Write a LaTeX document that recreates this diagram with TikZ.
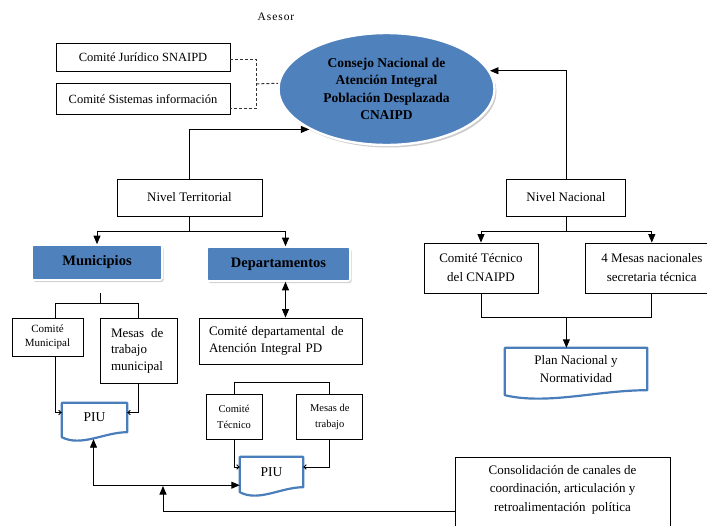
\documentclass[tikz,border=0pt]{standalone}
\usepackage{fontspec}
\setmainfont{Liberation Serif}
\usetikzlibrary{arrows.meta}
\usetikzlibrary{shapes.geometric}
\usetikzlibrary{shadows}
\usetikzlibrary{calc}
\usetikzlibrary{positioning}
\definecolor{officeblue}{RGB}{79,129,189}
\definecolor{docblue}{RGB}{74,126,187}
\newcommand{\docshape}[1]{%
  \draw[docborder] (#1.south east) -- (#1.north east) -- (#1.north west) -- ($(#1.south west)+(0,5)$)
    .. controls ($(#1.south east)!0.7!(#1.south west)+(0,15)$) and ($(#1.south east)!0.35!(#1.south west)$) .. (#1.south east) -- cycle;}

\begin{document}
\begin{tikzpicture}[x=1pt, y=-1pt,
mybox/.style={
draw=black,
line width=0.8pt,
fill=white,
inner sep=0pt,
align=center,
font=\fontsize{13}{19}\selectfont},
mysmall/.style={mybox, font=\fontsize{10.5}{16}\selectfont},
myblue/.style={
rounded corners=2pt,
fill=officeblue,
draw=white,
line width=1.6pt,
inner sep=0pt,
drop shadow={shadow xshift=1.5pt, shadow yshift=-2pt, opacity=0.35},
font=\bfseries\fontsize{14.5}{17}\selectfont},
myellipse/.style={
ellipse,
fill=officeblue,
draw=white,
line width=2.4pt,
inner sep=0pt,
drop shadow={shadow xshift=2pt, shadow yshift=-2.5pt, opacity=0.4},
align=center,
font=\bfseries\fontsize{13.5}{17.3}\selectfont},
mydoc/.style={inner sep=0pt, align=center, font=\fontsize{13}{18}\selectfont},
docborder/.style={draw=docblue, line width=2.2pt, line join=round},
myline/.style={line width=0.9pt},
myarrow/.style={line width=0.9pt, -{Triangle[length=8.5pt,width=7pt]}},
mydblarrow/.style={line width=0.9pt, {Triangle[length=8.5pt,width=7pt]}-{Triangle[length=8.5pt,width=7pt]}},
mysmallarrow/.style={line width=0.9pt, -{Straight Barb[length=2.5pt,width=4.5pt]}},
mydashed/.style={line width=1pt, draw=black!80, dash pattern=on 3pt off 2pt}
]
\useasboundingbox (0,0) rectangle (707,525);
% council and advisers
\node[font=\fontsize{11.5}{14}\selectfont\addfontfeatures{LetterSpace=8}] (asesor) at (276,17) {Asesor};
\node[mybox, minimum width=174, minimum height=28, font=\fontsize{12.5}{15}\selectfont] (cjur) at (143,57) {Comité Jurídico SNAIPD};
\node[mybox, minimum width=174, minimum height=31, font=\fontsize{12.5}{15}\selectfont, below=12pt of cjur] (csis) {Comité Sistemas información};
\node[myellipse, minimum width=216, minimum height=112] (cnaipd) at (386.5,89) {Consejo Nacional de\\Atención Integral\\Población Desplazada\\CNAIPD};
% territorial level
\node[mybox, minimum width=145, minimum height=37] (terr) at (189.5,197.5) {Nivel Territorial};
\node[myblue, minimum width=130, minimum height=35] (mun) at (97,262.5) {Municipios};
\node[myblue, minimum width=143, minimum height=34] (dep) at (278.5,264) {Departamentos};
\node[mybox, minimum width=71, minimum height=38, font=\fontsize{11}{14}\selectfont] (cmun) at (47.5,337) {Comité\\Municipal};
\node[mybox, minimum width=77, minimum height=65, align=left, text width=55, font=\fontsize{13}{16.5}\selectfont] (mmun) at (138.5,350.5) {Mesas\hspace{7pt}de\\trabajo\\municipal};
\node[mybox, minimum width=163, minimum height=46, align=left, text width=143, font=\fontsize{13}{17}\selectfont] (cdep) at (280.5,341) {Comité departamental\hspace{6pt}de\\Atención Integral PD};
\node[mysmall, minimum width=56, minimum height=45] (ctec2) at (234,416.5) {Comité\\Técnico};
\node[mysmall, minimum width=66, minimum height=45, right=34pt of ctec2] (mtrab) {Mesas de\\trabajo};
\node[mydoc, minimum width=65, minimum height=29, font=\fontsize{13.5}{16}\selectfont] (piu1) at (94.5,417.5) {PIU};
\node[mydoc, minimum width=63, minimum height=30, font=\fontsize{13.5}{16}\selectfont] (piu2) at (271.5,472) {PIU};
\node[mybox, anchor=north, minimum width=215, inner ysep=8pt, text depth=50pt, font=\fontsize{13}{18.5}\selectfont] (cons) at (562.5,457) {Consolidación de canales de\\coordinación, articulación y\\retroalimentación\hspace{3pt} política};
% national level
\node[mybox, minimum width=119, minimum height=37] (nac) at (566,197.5) {Nivel Nacional};
\node[mybox, minimum width=114, minimum height=50] (ctn) at (481,268) {Comité Técnico\\del CNAIPD};
\node[mybox, minimum width=132, minimum height=50, right=47pt of ctn] (mesn) {4 Mesas nacionales\\secretaria técnica};
\node[mydoc, minimum width=142, minimum height=42] (plan) at (576,369) {Plan Nacional y\\Normatividad};
\docshape{piu1}
\docshape{piu2}
\docshape{plan}
% advisers to council
\coordinate (dj) at ($(cjur.east)+(26,2)$);
\coordinate (ds) at ($(csis.east)+(26,9.5)$);
\coordinate (dm) at ($(dj)!0.5!(ds)$);
\draw[mydashed] (cjur.east |- dj) -- (dj) -- (ds) -- (csis.east |- ds);
\draw[mydashed] (dm) -- (cnaipd.177);
\draw[myarrow] (terr.north) |- (cnaipd.south west);
\draw[myarrow] (nac.north) |- (cnaipd.10);
% territorial branches
\coordinate (tsplit) at ($(terr.south)+(0,15)$);
\coordinate (dtop) at ($(dep.north)+(7,0)$);
\coordinate (dbot) at ($(dep.south)+(7,0)$);
\draw[myline] (terr.south) -- (tsplit);
\draw[myarrow] (tsplit) -| (mun.north);
\draw[myarrow] (tsplit) -| (dtop);
\draw[mydblarrow] (dbot) -- (dbot |- cdep.north);
\coordinate (mjoin) at ($(mun.south)+(3,23)$);
\coordinate (cmx) at ($(cmun.north)+(8,0)$);
\draw[myline, shorten <=12pt] (mun.south -| mjoin) -- (mjoin);
\draw[myline] (cmx) |- (mjoin) -| (mmun.north);
\draw[mysmallarrow] ($(cmun.south)+(8,0)$) |- ($(piu1.west)+(0,-5)$);
\draw[mysmallarrow] (mmun.south) |- ($(piu1.east)+(0,-5)$);
\draw[myline] (ctec2.north) -- ++(0,-11) -| (mtrab.north);
\draw[mysmallarrow] (ctec2.south) |- ($(piu2.west)+(0,-5)$);
\draw[mysmallarrow] (mtrab.south) |- ($(piu2.east)+(0,-5)$);
\draw[mydblarrow] ($(piu1.south)+(-1,7)$) |- ($(piu2.south west)+(0,-2)$);
\coordinate (retro) at (163,486);
\draw[myarrow] ($(cons.north west)+(0,54)$) -| (retro);
% national branches
\coordinate (nsplit) at ($(nac.south)+(0,15)$);
\draw[myline] (nac.south) -- (nsplit);
\draw[myarrow] (nsplit) -| (ctn.north);
\draw[myarrow] (nsplit) -| (mesn.north);
\coordinate (njoin) at ($(ctn.south)!0.5!(mesn.south)+(0,24)$);
\draw[myline] (ctn.south) |- (njoin) -| (mesn.south);
\draw[myarrow] (njoin) -- (njoin |- plan.north);
\end{tikzpicture}
\end{document}
